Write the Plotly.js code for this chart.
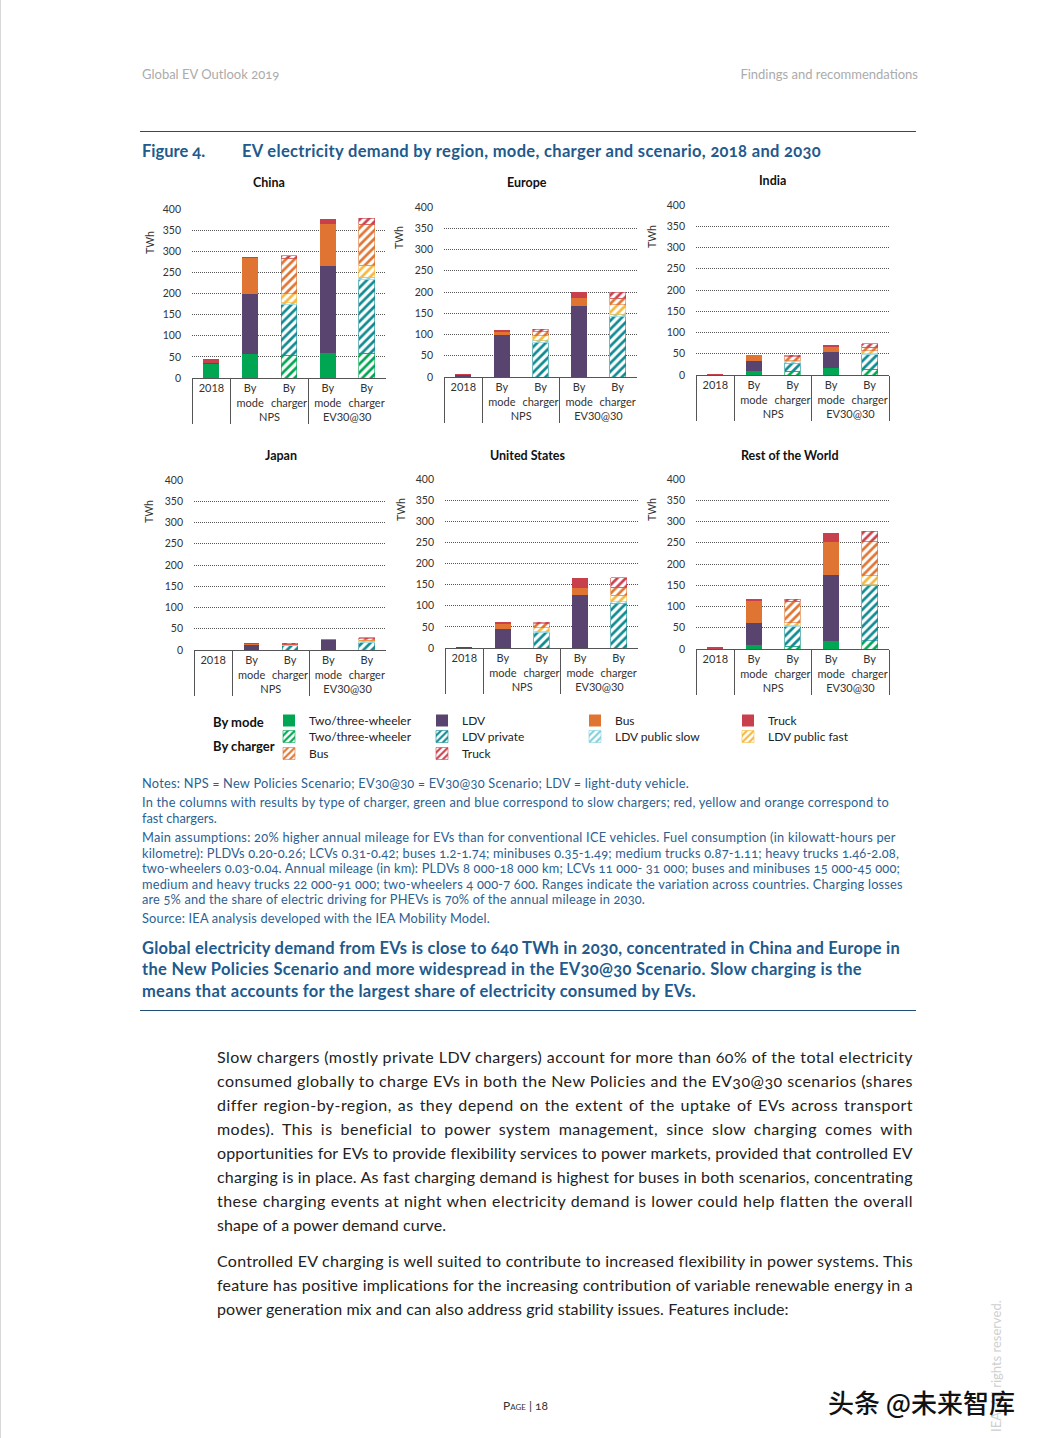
<!DOCTYPE html>
<html><head><meta charset="utf-8">
<script src="https://cdn.plot.ly/plotly-3.0.1.min.js"></script>
<style>
html,body{margin:0;padding:0;background:#fff;}
#page{position:relative;width:1042px;height:1438px;overflow:hidden;font-family:Lato,"Noto Sans",sans-serif;border-left:1px solid #d8d8d8;box-sizing:border-box;}
#chart{position:absolute;left:0;top:0;width:1042px;height:1438px;}
.ln{position:absolute;white-space:nowrap;font-feature-settings:"onum";}
.rule{position:absolute;left:139px;width:776px;height:0;border-top:1px solid #1f4e79;}
.hd{font-size:13px;color:#ababab;line-height:16px;}
.nt{font-size:12.8px;color:#2c5f92;line-height:16px;left:141px;}
.cp{font-size:16.5px;color:#215a8d;font-weight:700;line-height:22px;left:141px;}
.bd{font-size:16px;color:#222;line-height:24px;left:216px;}
</style></head>
<body>
<div id="page">
<div id="chart"></div>
<div class="ln hd" style="left:141px;top:66px;">Global EV Outlook 2019</div>
<div class="ln hd" style="right:124px;top:66px;">Findings and recommendations</div>
<div class="rule" style="top:131px;"></div>
<div class="ln cp" style="top:140px;">Figure 4.</div>
<div class="ln cp" style="left:241px;top:140px;" data-w="579">EV electricity demand by region, mode, charger and scenario, 2018 and 2030</div>

<div class="ln nt" style="top:775px;" data-w="547">Notes: NPS = New Policies Scenario; EV30@30 = EV30@30 Scenario; LDV = light-duty vehicle.</div>
<div class="ln nt" style="top:794px;" data-w="747">In the columns with results by type of charger, green and blue correspond to slow chargers; red, yellow and orange correspond to</div>
<div class="ln nt" style="top:810px;">fast chargers.</div>
<div class="ln nt" style="top:829px;" data-w="754">Main assumptions: 20% higher annual mileage for EVs than for conventional ICE vehicles. Fuel consumption (in kilowatt-hours per</div>
<div class="ln nt" style="top:845px;" data-w="757">kilometre): PLDVs 0.20-0.26; LCVs 0.31-0.42; buses 1.2-1.74; minibuses 0.35-1.49; medium trucks 0.87-1.11; heavy trucks 1.46-2.08,</div>
<div class="ln nt" style="top:860px;" data-w="758">two-wheelers 0.03-0.04. Annual mileage (in km): PLDVs 8 000-18 000 km; LCVs 11 000- 31 000; buses and minibuses 15 000-45 000;</div>
<div class="ln nt" style="top:876px;" data-w="761">medium and heavy trucks 22 000-91 000; two-wheelers 4 000-7 600. Ranges indicate the variation across countries. Charging losses</div>
<div class="ln nt" style="top:891px;" data-w="503">are 5% and the share of electric driving for PHEVs is 70% of the annual mileage in 2030.</div>
<div class="ln nt" style="top:910px;" data-w="348">Source: IEA analysis developed with the IEA Mobility Model.</div>

<div class="ln cp" style="top:937px;" data-w="758">Global electricity demand from EVs is close to 640 TWh in 2030, concentrated in China and Europe in</div>
<div class="ln cp" style="top:958px;" data-w="720">the New Policies Scenario and more widespread in the EV30@30 Scenario. Slow charging is the</div>
<div class="ln cp" style="top:980px;" data-w="554">means that accounts for the largest share of electricity consumed by EVs.</div>
<div class="rule" style="top:1010px;"></div>

<div class="ln bd" style="top:1045px;" data-w="696">Slow chargers (mostly private LDV chargers) account for more than 60% of the total electricity</div>
<div class="ln bd" style="top:1069px;" data-w="696">consumed globally to charge EVs in both the New Policies and the EV30@30 scenarios (shares</div>
<div class="ln bd" style="top:1093px;" data-w="696">differ region-by-region, as they depend on the extent of the uptake of EVs across transport</div>
<div class="ln bd" style="top:1117px;" data-w="696">modes). This is beneficial to power system management, since slow charging comes with</div>
<div class="ln bd" style="top:1141px;" data-w="696">opportunities for EVs to provide flexibility services to power markets, provided that controlled EV</div>
<div class="ln bd" style="top:1165px;" data-w="696">charging is in place. As fast charging demand is highest for buses in both scenarios, concentrating</div>
<div class="ln bd" style="top:1189px;" data-w="696">these charging events at night when electricity demand is lower could help flatten the overall</div>
<div class="ln bd" style="top:1213px;" data-w="229">shape of a power demand curve.</div>
<div class="ln bd" style="top:1249px;" data-w="696">Controlled EV charging is well suited to contribute to increased flexibility in power systems. This</div>
<div class="ln bd" style="top:1273px;" data-w="696">feature has positive implications for the increasing contribution of variable renewable energy in a</div>
<div class="ln bd" style="top:1297px;" data-w="572">power generation mix and can also address grid stability issues. Features include:</div>

<div class="ln" style="left:502px;top:1398px;font-size:12px;color:#333;line-height:16px;"><span style="font-variant:small-caps;">Page</span> | 18</div>
<div class="ln" style="left:920px;top:1349px;font-size:13px;color:#cfcfcf;transform:rotate(-90deg);transform-origin:center;width:150px;">IEA. All rights reserved.</div>
<div class="ln" style="left:827px;top:1385px;font-size:26px;line-height:34px;color:#111;font-weight:500;font-family:'Noto Sans CJK SC',sans-serif;">头条 @未来智库</div>
</div>

<script>
// ---------------- DATA ----------------
const regions = ["China", "Europe", "India", "Japan", "United States", "Rest of the World"];
const scenarioLabels = [" ", "NPS", "NPS", "EV30@30", "EV30@30"];
const columnLabels = ["2018", "By<br>mode", "By<br>charger", "By<br>mode", "By<br>charger"];
const yTicks = [0, 50, 100, 150, 200, 250, 300, 350, 400];

// By mode values per region: [2018, NPS 2030, EV30@30 2030] (TWh)
const modeTwoThree = [[32, 56, 58], [0, 0, 0], [0, 10, 16], [0, 0, 0], [0, 0, 0], [0, 10, 20]];
const modeLDV      = [[3, 143, 208], [4, 98, 168], [0, 24, 39], [1, 12, 23], [3, 46, 125], [0, 51, 153]];
const modeBus      = [[1, 84, 98], [1, 9, 17], [0, 12, 11], [0, 2, 2], [0, 11, 18], [0, 52, 79]];
const modeTruck    = [[10, 4, 12], [2, 4, 14], [3, 2, 5], [0, 2, 2], [0, 4, 22], [4, 4, 22]];

// By charger values per region: [NPS 2030, EV30@30 2030] (TWh)
const chgTwoThree   = [[54, 58], [0, 0], [9, 14], [0, 0], [0, 0], [6, 19]];
const chgLDVPrivate = [[119, 174], [81, 142], [19, 34], [10, 17], [36, 106], [46, 131]];
const chgLDVSlow    = [[5, 6], [5, 6], [3, 2], [1, 2], [3, 3], [3, 2]];
const chgLDVFast    = [[21, 29], [11, 22], [3, 7], [1, 4], [9, 16], [7, 20]];
const chgBus        = [[84, 97], [10, 15], [9, 8], [2, 3], [9, 19], [50, 80]];
const chgTruck      = [[6, 14], [5, 15], [4, 8], [2, 3], [4, 22], [5, 25]];

const modeNames = ["Two/three-wheeler", "LDV", "Bus", "Truck"];
const chgNames = ["Two/three-wheeler", "LDV private", "LDV public slow", "LDV public fast", "Bus", "Truck"];
const unitLabel = "TWh";

// ---------------- STYLE / LAYOUT ----------------
const modeColors = ["#00a651", "#58446f", "#e07432", "#c9404d"];
const chgColors = ["#00a651", "#108a91", "#7fcfdc", "#f6b83d", "#e07432", "#c9404d"];
const W = 1042, H = 1438;
const xd = p => p / W;
const yd = p => 1 - p / H;
const panelBoxes = [
  {x: [191, 385], y: [209, 378], tx: 268, ty: 183, ux: 149, uy: 243},
  {x: [443, 636], y: [207, 377], tx: 526, ty: 183, ux: 398, uy: 238},
  {x: [695, 888], y: [205, 375], tx: 771, ty: 181, ux: 651, uy: 237},
  {x: [193, 385], y: [480, 650], tx: 280, ty: 456, ux: 148, uy: 512},
  {x: [444, 637], y: [479, 648], tx: 526, ty: 455, ux: 400, uy: 510},
  {x: [695, 888], y: [479, 649], tx: 789, ty: 455, ux: 651, uy: 510}
];
const FONT = "Lato, 'Noto Sans', sans-serif";

const modeData = [modeTwoThree, modeLDV, modeBus, modeTruck];
const chgData = [chgTwoThree, chgLDVPrivate, chgLDVSlow, chgLDVFast, chgBus, chgTruck];

const traces = [];
const layout = {
  width: W, height: H,
  margin: {l: 0, r: 0, t: 0, b: 0},
  paper_bgcolor: "rgba(0,0,0,0)", plot_bgcolor: "rgba(0,0,0,0)",
  barmode: "stack", bargap: 0.59,
  font: {family: FONT, color: "#333"},
  showlegend: true,
  annotations: [],
  hovermode: false
};

regions.forEach((reg, r) => {
  const sfx = r === 0 ? "" : String(r + 1);
  const xa = "x" + sfx, ya = "y" + sfx;
  const xcat = [scenarioLabels, columnLabels];
  modeData.forEach((arr, k) => {
    const v = arr[r];
    traces.push({
      type: "bar", x: xcat, y: [v[0], v[1], null, v[2], null],
      name: modeNames[k], xaxis: xa, yaxis: ya,
      marker: {color: modeColors[k]},
      legend: "legend", showlegend: r === 0
    });
  });
  chgData.forEach((arr, k) => {
    const v = arr[r];
    const c = chgColors[k];
    traces.push({
      type: "bar", x: xcat, y: [null, null, v[0], null, v[1]],
      name: chgNames[k], xaxis: xa, yaxis: ya,
      marker: {color: c, line: {color: c, width: 0.6},
        pattern: {shape: "/", fgcolor: c, bgcolor: "#ffffff", size: 6, solidity: 0.45, fillmode: "replace"}},
      legend: k < 4 ? "legend2" : "legend3", showlegend: r === 0
    });
  });
  const b = panelBoxes[r];
  layout["xaxis" + sfx] = {
    type: "multicategory", domain: [xd(b.x[0]), xd(b.x[1])], anchor: ya,
    showline: true, linecolor: "#555", linewidth: 1,
    showdividers: true, dividercolor: "#555", dividerwidth: 1,
    ticks: "", tickangle: 0, tickfont: {size: 11, color: "#333", family: FONT},
    showgrid: false, zeroline: false, fixedrange: true
  };
  layout["yaxis" + sfx] = {
    domain: [yd(b.y[1]), yd(b.y[0])], anchor: xa,
    range: [0, 400], tickvals: yTicks, ticktext: yTicks.map(String),
    showgrid: true, gridcolor: "#555", gridwidth: 1, griddash: "1px,1px",
    zeroline: false, showline: false, ticks: "", ticklabelstandoff: 10,
    tickfont: {size: 10.5, color: "#333", family: FONT},
    fixedrange: true
  };
  layout.annotations.push({
    xref: "paper", yref: "paper", x: xd(b.tx), y: yd(b.ty),
    xanchor: "center", yanchor: "middle", showarrow: false,
    text: "<b>" + reg + "</b>", font: {size: 12.5, color: "#111", family: FONT}
  }, {
    xref: "paper", yref: "paper", x: xd(b.ux), y: yd(b.uy),
    xanchor: "center", yanchor: "middle", showarrow: false, textangle: -90,
    text: unitLabel, font: {size: 10.5, color: "#333", family: FONT}
  });
});

layout.annotations.push(
  {xref: "paper", yref: "paper", x: xd(210), y: yd(722), xanchor: "left", yanchor: "middle",
   showarrow: false, text: "<b>By mode</b>", font: {size: 13, color: "#111", family: FONT}},
  {xref: "paper", yref: "paper", x: xd(210), y: yd(746), xanchor: "left", yanchor: "middle",
   showarrow: false, text: "<b>By charger</b>", font: {size: 13, color: "#111", family: FONT}}
);

const legBase = {
  orientation: "h", xanchor: "left", yanchor: "top", x: xd(268),
  entrywidth: 108, entrywidthmode: "pixels", traceorder: "normal",
  bgcolor: "rgba(0,0,0,0)", borderwidth: 0, itemclick: false, itemdoubleclick: false,
  font: {size: 12, color: "#222", family: FONT}
};
layout.legend = Object.assign({}, legBase, {y: yd(706)});
layout.legend2 = Object.assign({}, legBase, {y: yd(722)});
layout.legend3 = Object.assign({}, legBase, {y: yd(739)});

Plotly.newPlot("chart", traces, layout, {staticPlot: true, displayModeBar: false});

// ---------------- text line fitting ----------------
function fitLines() {
  document.querySelectorAll(".ln[data-w]").forEach(el => {
    const target = parseFloat(el.dataset.w);
    el.style.letterSpacing = "0px"; el.style.wordSpacing = "0px";
    let w = el.getBoundingClientRect().width;
    const txt = el.textContent;
    let ls = (target - w) / txt.length;
    if (ls > 0.45) ls = 0.45;
    el.style.letterSpacing = ls + "px";
    w = el.getBoundingClientRect().width;
    const spaces = (txt.match(/ /g) || []).length;
    if (w < target - 0.5 && spaces > 0) {
      el.style.wordSpacing = ((target - w) / spaces) + "px";
    }
  });
}
if (document.fonts && document.fonts.ready) { document.fonts.ready.then(fitLines); }
fitLines();
</script>
</body></html>
